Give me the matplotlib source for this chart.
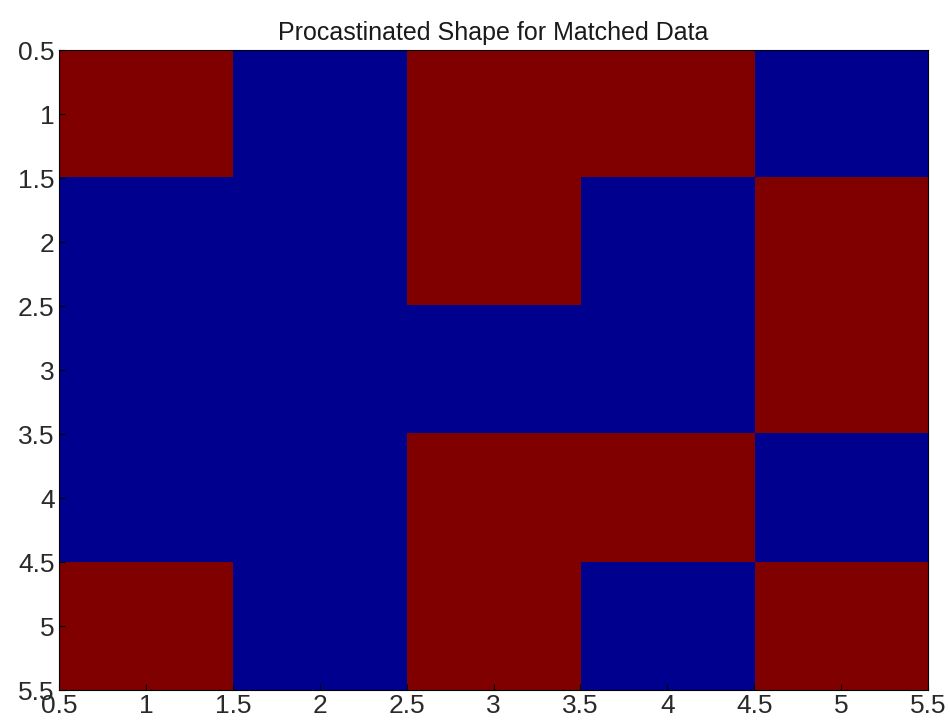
'''
Procastinated shape plot: a 5x5 binary matrix drawn as an image with jet-style colours.
'''

import numpy as np
import matplotlib.pyplot as plt
from matplotlib.colors import ListedColormap

plt.rcParams['font.family'] = ['Liberation Sans', 'DejaVu Sans']

# 1 = red cell, 0 = blue cell (rows top to bottom)
row1 = [1, 0, 1, 1, 0]
row2 = [0, 0, 1, 0, 1]
row3 = [0, 0, 0, 0, 1]
row4 = [0, 0, 1, 1, 0]
row5 = [1, 0, 1, 0, 1]
shape = np.array([row1, row2, row3, row4, row5])

tick_values = [0.5, 1, 1.5, 2, 2.5, 3, 3.5, 4, 4.5, 5, 5.5]
tick_labels = ['0.5', '1', '1.5', '2', '2.5', '3', '3.5', '4', '4.5', '5', '5.5']

# the two ends of matlab's jet colormap
jet_ends = ListedColormap(['#00008F', '#800000'])

fig = plt.figure(figsize=(9.5, 7.25), dpi=100)
ax = fig.add_axes([0.062, 0.048, 0.915, 0.883])

ax.imshow(shape, cmap=jet_ends, vmin=0, vmax=1, aspect='auto',
          interpolation='nearest', extent=[0.5, 5.5, 5.5, 0.5])

ax.set_xticks(tick_values)
ax.set_xticklabels(tick_labels)
ax.set_yticks(tick_values)
ax.set_yticklabels(tick_labels)
ax.tick_params(direction='in', length=4, labelsize=19, pad=3,
               labelcolor='#2a2a2a')
ax.set_xlim(0.5, 5.5)
ax.set_ylim(5.5, 0.5)
ax.set_title('Procastinated Shape for Matched Data', fontsize=18, pad=7,
             color='#1a1a1a')

fig.savefig('out.png', dpi=100)
